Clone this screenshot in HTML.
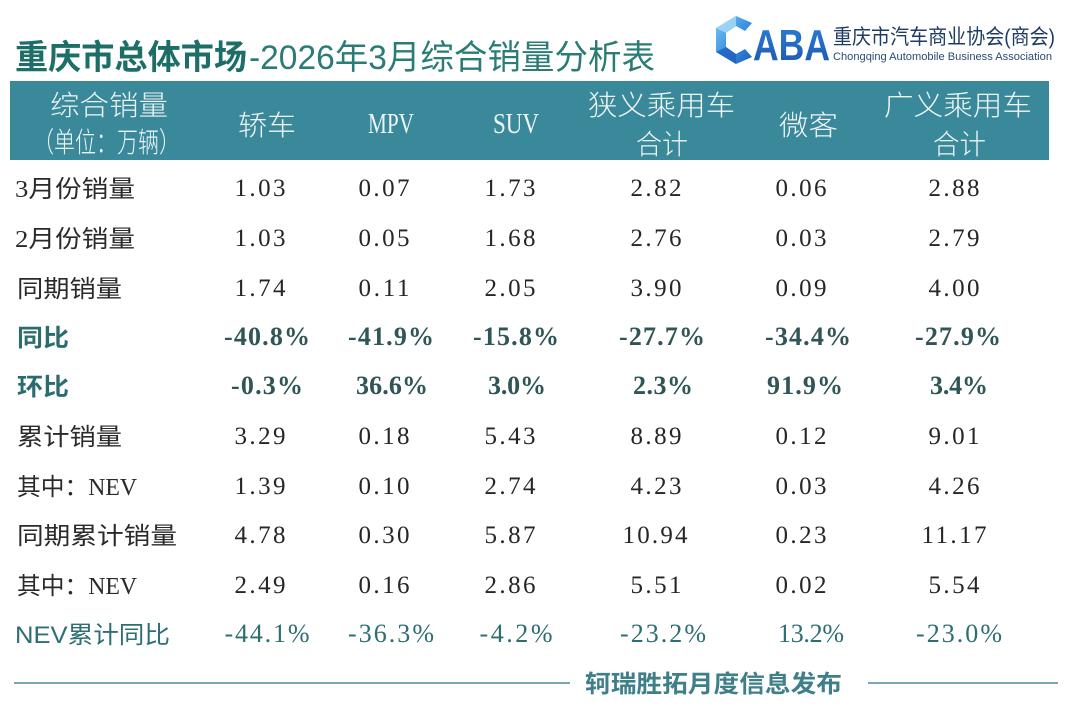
<!DOCTYPE html>
<html><head><meta charset="utf-8"><style>
html,body{margin:0;padding:0;background:#fff;}
svg{display:block;}
.t{font-family:"Liberation Sans","Noto Sans CJK SC",sans-serif;}
.h{font-family:"Liberation Sans","Noto Sans CJK SC",sans-serif;fill:#eef5f6;font-size:28px;font-weight:300;}
.hs{font-family:"Liberation Serif","Noto Serif CJK SC",serif;fill:#eef5f6;font-size:29px;}
.lab{font-family:"Liberation Serif","Noto Sans CJK SC",sans-serif;fill:#2a2a2a;font-size:24px;}
.labt{font-family:"Liberation Sans","Noto Sans CJK SC",sans-serif;fill:#2b6d6e;font-size:24px;font-weight:bold;}
.labn{font-family:"Liberation Sans","Noto Sans CJK SC",sans-serif;fill:#2d6f74;font-size:24px;font-weight:normal;}
.num{font-family:"Liberation Serif","Noto Serif CJK SC",serif;fill:#262626;font-size:25px;text-anchor:middle;}
.pct{font-family:"Liberation Serif","Noto Serif CJK SC",serif;fill:#2f5556;font-size:26px;font-weight:bold;text-anchor:middle;}
.pctn{font-family:"Liberation Serif","Noto Serif CJK SC",serif;fill:#2d6e73;font-size:26px;text-anchor:middle;}
</style></head><body>
<svg width="1080" height="709" viewBox="0 0 1080 709" xmlns="http://www.w3.org/2000/svg">
<defs>
<linearGradient id="cg" x1="0" y1="0" x2="1" y2="1">
<stop offset="0" stop-color="#7cc6f2"/><stop offset="0.5" stop-color="#3b93e0"/><stop offset="1" stop-color="#1a5fc0"/>
</linearGradient>
<linearGradient id="ag" x1="0" y1="0" x2="0" y2="1">
<stop offset="0" stop-color="#2f7fd6"/><stop offset="1" stop-color="#1a56b0"/>
</linearGradient>
</defs>
<rect width="1080" height="709" fill="#fff"/>

<!-- Title -->
<text class="t" x="15" y="69" font-size="34" font-weight="bold" fill="#1c6e66" textLength="232" lengthAdjust="spacingAndGlyphs">重庆市总体市场</text>
<text class="t" x="249" y="69" font-size="34" fill="#2a7d75" textLength="406" lengthAdjust="spacingAndGlyphs">-2026年3月综合销量分析表</text>

<!-- Logo -->
<path d="M752,23 L736,16 L716,28 L716,52 L736,64 L752,57 L745,49 L736,54 L726,47 L726,33 L736,26 L745,31 Z" fill="url(#cg)"/>
<path d="M736,16 L716,28 L726,33 L736,26 Z" fill="#a9dcf7" opacity="0.8"/>
<path d="M716,52 L736,64 L736,54 L726,47 Z" fill="#1f5fbf" opacity="0.8"/>
<text x="753" y="60" font-family="Liberation Sans, sans-serif" font-weight="bold" font-size="44" fill="url(#ag)" textLength="77" lengthAdjust="spacingAndGlyphs">ABA</text>
<text class="t" x="833" y="44" font-size="21" fill="#1d3b64" textLength="222" lengthAdjust="spacingAndGlyphs">重庆市汽车商业协会(商会)</text>
<text x="833" y="60" font-family="Liberation Sans, sans-serif" font-size="11" fill="#2a4b72" textLength="219" lengthAdjust="spacingAndGlyphs">Chongqing Automobile Business Association</text>

<!-- Header band -->
<rect x="10" y="81" width="1039" height="79" fill="#3a899a"/>
<text class="h" x="50" y="115" textLength="118" lengthAdjust="spacingAndGlyphs">综合销量</text>
<text class="h" x="33" y="152" font-size="20" textLength="147" lengthAdjust="spacingAndGlyphs">（单位：万辆）</text>
<text class="h" x="238" y="135" textLength="58" lengthAdjust="spacingAndGlyphs">轿车</text>
<text class="hs" x="368" y="133" textLength="46" lengthAdjust="spacingAndGlyphs">MPV</text>
<text class="hs" x="493" y="133" textLength="46" lengthAdjust="spacingAndGlyphs">SUV</text>
<text class="h" x="588" y="115" textLength="147" lengthAdjust="spacingAndGlyphs">狭义乘用车</text>
<text class="h" x="636" y="154" textLength="52" lengthAdjust="spacingAndGlyphs">合计</text>
<text class="h" x="779" y="135" textLength="59" lengthAdjust="spacingAndGlyphs">微客</text>
<text class="h" x="884" y="115" textLength="148" lengthAdjust="spacingAndGlyphs">广义乘用车</text>
<text class="h" x="933" y="154" textLength="53" lengthAdjust="spacingAndGlyphs">合计</text>

<!-- Row labels -->
<text class="lab" x="15" y="197" textLength="120" lengthAdjust="spacingAndGlyphs">3月份销量</text>
<text class="lab" x="15" y="247" textLength="120" lengthAdjust="spacingAndGlyphs">2月份销量</text>
<text class="lab" x="17" y="297" textLength="105" lengthAdjust="spacingAndGlyphs">同期销量</text>
<text class="labt" x="17" y="346" textLength="52" lengthAdjust="spacingAndGlyphs">同比</text>
<text class="labt" x="17" y="395" textLength="52" lengthAdjust="spacingAndGlyphs">环比</text>
<text class="lab" x="17" y="445" textLength="105" lengthAdjust="spacingAndGlyphs">累计销量</text>
<text class="lab" x="17" y="495" textLength="120" lengthAdjust="spacingAndGlyphs">其中：NEV</text>
<text class="lab" x="17" y="544" textLength="160" lengthAdjust="spacingAndGlyphs">同期累计销量</text>
<text class="lab" x="17" y="594" textLength="120" lengthAdjust="spacingAndGlyphs">其中：NEV</text>
<text class="labn" x="15" y="643" textLength="155" lengthAdjust="spacingAndGlyphs">NEV累计同比</text>

<g>
<text class="num" x="260" y="196" textLength="51">1.03</text>
<text class="num" x="384" y="196" textLength="51">0.07</text>
<text class="num" x="510" y="196" textLength="51">1.73</text>
<text class="num" x="656" y="196" textLength="51">2.82</text>
<text class="num" x="801" y="196" textLength="51">0.06</text>
<text class="num" x="954" y="196" textLength="51">2.88</text>
</g>
<g>
<text class="num" x="260" y="246" textLength="51">1.03</text>
<text class="num" x="384" y="246" textLength="51">0.05</text>
<text class="num" x="510" y="246" textLength="51">1.68</text>
<text class="num" x="656" y="246" textLength="51">2.76</text>
<text class="num" x="801" y="246" textLength="51">0.03</text>
<text class="num" x="954" y="246" textLength="51">2.79</text>
</g>
<g>
<text class="num" x="260" y="296" textLength="51">1.74</text>
<text class="num" x="384" y="296" textLength="51">0.11</text>
<text class="num" x="510" y="296" textLength="51">2.05</text>
<text class="num" x="656" y="296" textLength="51">3.90</text>
<text class="num" x="801" y="296" textLength="51">0.09</text>
<text class="num" x="954" y="296" textLength="51">4.00</text>
</g>
<g>
<text class="pct" x="267" y="345" textLength="86">-40.8%</text>
<text class="pct" x="391" y="345" textLength="86">-41.9%</text>
<text class="pct" x="516" y="345" textLength="86">-15.8%</text>
<text class="pct" x="662" y="345" textLength="86">-27.7%</text>
<text class="pct" x="808" y="345" textLength="86">-34.4%</text>
<text class="pct" x="958" y="345" textLength="86">-27.9%</text>
</g>
<g>
<text class="pct" x="267" y="394" textLength="72">-0.3%</text>
<text class="pct" x="392" y="394" textLength="72">36.6%</text>
<text class="pct" x="517" y="394" textLength="58">3.0%</text>
<text class="pct" x="663" y="394" textLength="60">2.3%</text>
<text class="pct" x="805" y="394" textLength="76">91.9%</text>
<text class="pct" x="959" y="394" textLength="58">3.4%</text>
</g>
<g>
<text class="num" x="260" y="444" textLength="51">3.29</text>
<text class="num" x="384" y="444" textLength="51">0.18</text>
<text class="num" x="510" y="444" textLength="51">5.43</text>
<text class="num" x="656" y="444" textLength="51">8.89</text>
<text class="num" x="801" y="444" textLength="51">0.12</text>
<text class="num" x="954" y="444" textLength="51">9.01</text>
</g>
<g>
<text class="num" x="260" y="494" textLength="51">1.39</text>
<text class="num" x="384" y="494" textLength="51">0.10</text>
<text class="num" x="510" y="494" textLength="51">2.74</text>
<text class="num" x="656" y="494" textLength="51">4.23</text>
<text class="num" x="801" y="494" textLength="51">0.03</text>
<text class="num" x="954" y="494" textLength="51">4.26</text>
</g>
<g>
<text class="num" x="260" y="543" textLength="51">4.78</text>
<text class="num" x="384" y="543" textLength="51">0.30</text>
<text class="num" x="510" y="543" textLength="51">5.87</text>
<text class="num" x="655" y="543" textLength="65">10.94</text>
<text class="num" x="801" y="543" textLength="51">0.23</text>
<text class="num" x="954" y="543" textLength="65">11.17</text>
</g>
<g>
<text class="num" x="260" y="593" textLength="51">2.49</text>
<text class="num" x="384" y="593" textLength="51">0.16</text>
<text class="num" x="510" y="593" textLength="51">2.86</text>
<text class="num" x="656" y="593" textLength="51">5.51</text>
<text class="num" x="801" y="593" textLength="51">0.02</text>
<text class="num" x="954" y="593" textLength="51">5.54</text>
</g>
<g>
<text class="pctn" x="267" y="642" textLength="85">-44.1%</text>
<text class="pctn" x="391" y="642" textLength="86">-36.3%</text>
<text class="pctn" x="516" y="642" textLength="73">-4.2%</text>
<text class="pctn" x="663" y="642" textLength="86">-23.2%</text>
<text class="pctn" x="811" y="642" textLength="66">13.2%</text>
<text class="pctn" x="959" y="642" textLength="86">-23.0%</text>
</g>

<!-- Footer -->
<line x1="14" y1="683" x2="570" y2="683" stroke="#4e8c98" stroke-width="1.6"/>
<line x1="868" y1="683" x2="1058" y2="683" stroke="#4e8c98" stroke-width="1.6"/>
<text class="t" x="585" y="692" font-size="24" font-weight="bold" fill="#3f7f89" textLength="257" lengthAdjust="spacingAndGlyphs">轲瑞胜拓月度信息发布</text>
</svg>
</body></html>
